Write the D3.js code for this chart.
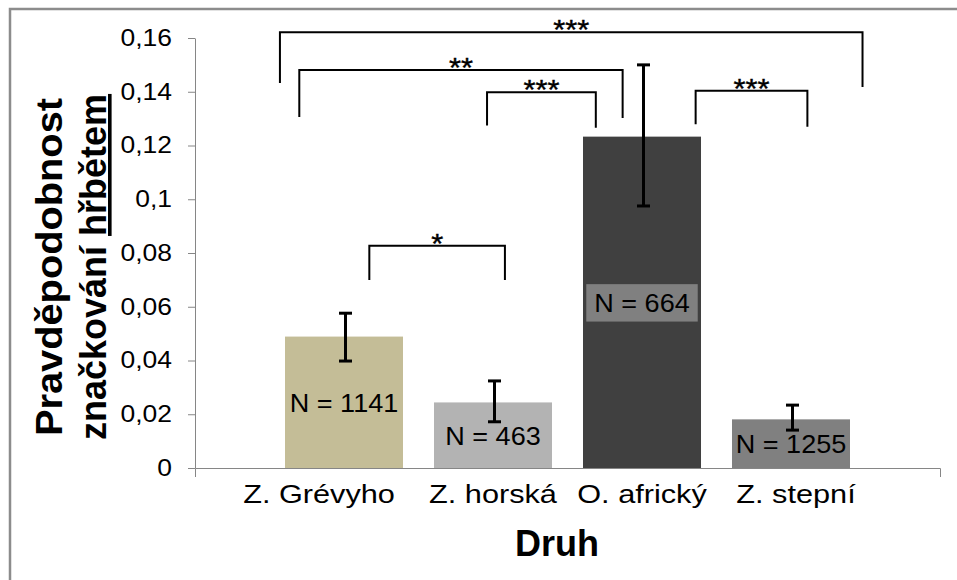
<!DOCTYPE html>
<html>
<head>
<meta charset="utf-8">
<script src="https://cdn.jsdelivr.net/npm/d3@7"></script>
<style>
  body { margin: 0; background: #fff; }
  text { font-family: Arial, "Liberation Sans", sans-serif; }
</style>
</head>
<body>
<script>
// data
var categories = ["Z. Grévyho", "Z. horská", "O. africký", "Z. stepní"]
var means = [0.0489, 0.0244, 0.1233, 0.0181]
var errLow = [0.0398, 0.0172, 0.0975, 0.0141]
var errHigh = [0.0576, 0.0324, 0.1500, 0.0234]
var counts = [1141, 463, 664, 1255]
var yTicks = [0, 0.02, 0.04, 0.06, 0.08, 0.1, 0.12, 0.14, 0.16]
var barColors = ["#c4bd97", "#b3b3b3", "#404040", "#808080"]

// significance brackets: ends in category-index units, heights in data units
var bracketFrom = [-0.43, -0.30, 0.96, 2.36, 0.17]
var bracketTo = [3.48, 1.87, 1.69, 3.11, 1.08]
var bracketTop = [0.1621, 0.1481, 0.1398, 0.1404, 0.0827]
var bracketLegL = [0.1433, 0.1306, 0.1274, 0.1279, 0.0700]
var bracketLegR = [0.1418, 0.1302, 0.1266, 0.1270, 0.0700]
var bracketLabel = ["***", "**", "***", "***", "*"]

var width = 957, height = 580
var axisColor = "#868686"

var svg = d3.select("body").append("svg")
    .attr("width", width)
    .attr("height", height)

// outer frame
svg.append("rect")
    .attr("x", 10).attr("y", 9)
    .attr("width", 980).attr("height", 600)
    .attr("fill", "none")
    .attr("stroke", "#8c8c8c")
    .attr("stroke-width", 2.5)

var x = d3.scaleBand()
    .domain(categories)
    .range([195, 940])
    .paddingInner(0.208)
    .paddingOuter(0.604)

var y = d3.scaleLinear()
    .domain([0, 0.16])
    .range([468, 38])

// category index -> px, for the bracket annotations
var xi = d3.scaleLinear()
    .domain([0, 1])
    .range([x(categories[0]) + x.bandwidth() / 2, x(categories[1]) + x.bandwidth() / 2])

// y axis
var yAxis = svg.append("g")
    .attr("transform", "translate(195,0)")
    .call(d3.axisLeft(y)
        .tickValues(yTicks)
        .tickSize(7)
        .tickSizeOuter(0)
        .tickFormat(function(d) { return String(+d.toFixed(2)).replace(".", ",") }))
yAxis.select(".domain").attr("stroke", axisColor)
yAxis.selectAll(".tick line").attr("stroke", axisColor)
yAxis.selectAll(".tick text")
    .attr("font-size", 23)
    .attr("fill", "#000")
    .attr("x", -23 / 1.15)
    .attr("transform", "scale(1.15,1)")

// bars
svg.selectAll(".bar")
    .data(categories)
  .enter().append("rect")
    .attr("class", "bar")
    .attr("x", function(d) { return x(d) })
    .attr("width", x.bandwidth())
    .attr("y", function(d, i) { return y(means[i]) })
    .attr("height", function(d, i) { return y(0) - y(means[i]) })
    .attr("fill", function(d, i) { return barColors[i] })

// x axis
var xAxis = svg.append("g")
    .attr("transform", "translate(0,468)")
    .call(d3.axisBottom(x)
        .tickSizeInner(0)
        .tickSizeOuter(9)
        .tickPadding(16.5))
xAxis.select(".domain").attr("stroke", axisColor)
xAxis.selectAll(".tick text")
    .attr("font-size", 26)
    .attr("fill", "#000")
    .attr("transform", "scale(1.18,1)")
    .attr("dx", function(d, i) { return (i === 0 ? -25 : i === 3 ? 5 : 0) / 1.18 })

// N labels
var nLab = svg.selectAll(".nlab")
    .data(categories)
  .enter().append("g")
    .attr("class", "nlab")
    .attr("transform", function(d, i) {
        return "translate(" + (x(d) + x.bandwidth() / 2) + "," + y(means[i] / 2) + ")"
    })
nLab.append("text")
    .attr("text-anchor", "middle")
    .attr("dy", "0.36em")
    .attr("font-size", 26)
    .attr("fill", "#000")
    .attr("transform", "scale(1.04,1)")
    .text(function(d, i) { return "N = " + counts[i] })
nLab.filter(function(d, i) { return i === 2 }).each(function() {
    var g = d3.select(this)
    var b = g.select("text").node().getBBox()
    g.insert("rect", "text")
        .attr("x", b.x * 1.04 - 8)
        .attr("y", b.y - 4)
        .attr("width", b.width * 1.04 + 16)
        .attr("height", b.height + 8)
        .attr("fill", "#808080")
})

// error bars
var err = svg.selectAll(".err")
    .data(categories)
  .enter().append("g")
    .attr("class", "err")
    .attr("transform", function(d) { return "translate(" + (x(d) + x.bandwidth() / 2 + 1.5) + ",0)" })
    .attr("stroke", "#000")
    .attr("stroke-width", 3)
err.append("line")
    .attr("y1", function(d, i) { return y(errLow[i]) })
    .attr("y2", function(d, i) { return y(errHigh[i]) })
err.append("line")
    .attr("x1", -6.5).attr("x2", 6.5)
    .attr("y1", function(d, i) { return y(errHigh[i]) })
    .attr("y2", function(d, i) { return y(errHigh[i]) })
err.append("line")
    .attr("x1", -6.5).attr("x2", 6.5)
    .attr("y1", function(d, i) { return y(errLow[i]) })
    .attr("y2", function(d, i) { return y(errLow[i]) })

// significance brackets
var br = svg.selectAll(".bracket")
    .data(bracketLabel)
  .enter().append("g")
    .attr("class", "bracket")
br.append("path")
    .attr("fill", "none")
    .attr("stroke", "#000")
    .attr("stroke-width", 2)
    .attr("d", function(d, i) {
        var x0 = xi(bracketFrom[i]), x1 = xi(bracketTo[i])
        return "M" + x0 + "," + y(bracketLegL[i]) +
            "V" + y(bracketTop[i]) +
            "H" + x1 +
            "V" + y(bracketLegR[i])
    })
br.append("text")
    .attr("text-anchor", "middle")
    .attr("font-size", 28)
    .attr("fill", "#000")
    .attr("stroke", "#000")
    .attr("stroke-width", 0.4)
    .attr("transform", function(d, i) {
        var cx = (xi(bracketFrom[i]) + xi(bracketTo[i])) / 2
        return "translate(" + cx + "," + (y(bracketTop[i]) + 7) + ") scale(1.1,1)"
    })
    .text(function(d) { return d })

// axis titles
svg.append("text")
    .attr("text-anchor", "middle")
    .attr("font-size", 36)
    .attr("font-weight", "bold")
    .attr("transform", "translate(557,556)")
    .text("Druh")

var yt = svg.append("g")
    .attr("font-size", 36)
    .attr("font-weight", "bold")
yt.append("text")
    .attr("text-anchor", "middle")
    .attr("textLength", 338)
    .attr("lengthAdjust", "spacingAndGlyphs")
    .attr("transform", "translate(62,267) rotate(-90)")
    .text("Pravděpodobnost")
var yt2 = yt.append("text")
    .attr("text-anchor", "middle")
    .attr("transform", "translate(106,267) rotate(-90)")
yt2.append("tspan").text("značkování ")
yt2.append("tspan")
    .attr("text-decoration", "underline")
    .text("hřbětem")
</script>
</body>
</html>
